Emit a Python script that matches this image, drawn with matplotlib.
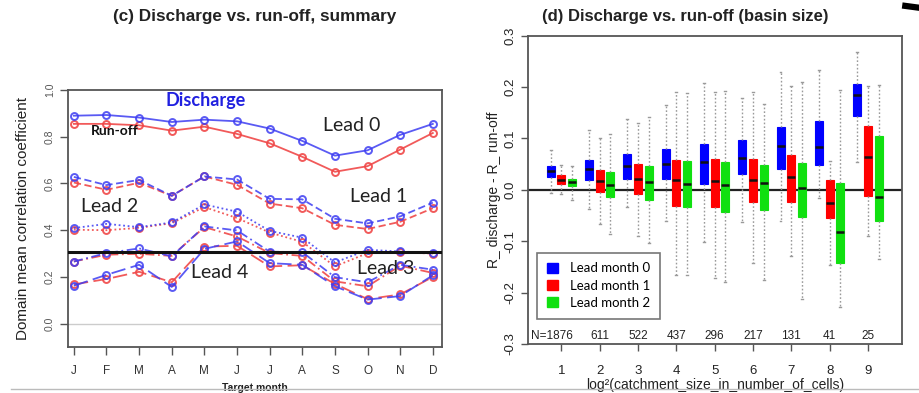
"""Discharge vs. run-off skill: monthly summary and basin-size boxplots."""
import matplotlib

matplotlib.use("Agg")
import matplotlib.pyplot as plt
from matplotlib.lines import Line2D
from matplotlib.patches import Patch

# ---- panel (c): domain mean correlation by target month ----
months = ["J", "F", "M", "A", "M", "J", "J", "A", "S", "O", "N", "D"]

discharge_lead0 = [0.890, 0.893, 0.882, 0.863, 0.873, 0.866, 0.835, 0.782, 0.719, 0.742, 0.808, 0.855]
runoff_lead0 = [0.855, 0.855, 0.849, 0.826, 0.843, 0.812, 0.772, 0.714, 0.650, 0.674, 0.745, 0.816]
discharge_lead1 = [0.628, 0.593, 0.615, 0.547, 0.630, 0.617, 0.534, 0.532, 0.449, 0.429, 0.459, 0.518]
runoff_lead1 = [0.604, 0.573, 0.603, 0.547, 0.630, 0.594, 0.514, 0.494, 0.423, 0.405, 0.436, 0.494]
discharge_lead2 = [0.409, 0.427, 0.413, 0.433, 0.510, 0.479, 0.397, 0.368, 0.262, 0.316, 0.309, 0.302]
runoff_lead2 = [0.402, 0.400, 0.410, 0.430, 0.499, 0.452, 0.390, 0.350, 0.245, 0.302, 0.305, 0.300]
discharge_lead3 = [0.266, 0.302, 0.322, 0.288, 0.416, 0.399, 0.308, 0.306, 0.199, 0.177, 0.252, 0.231]
runoff_lead3 = [0.266, 0.295, 0.299, 0.290, 0.413, 0.373, 0.302, 0.290, 0.181, 0.160, 0.248, 0.217]
discharge_lead4 = [0.162, 0.209, 0.252, 0.157, 0.320, 0.352, 0.259, 0.252, 0.160, 0.103, 0.118, 0.207]
runoff_lead4 = [0.168, 0.191, 0.222, 0.177, 0.330, 0.333, 0.245, 0.250, 0.170, 0.105, 0.125, 0.200]
threshold = 0.306

# ---- panel (d): R_discharge - R_run-off by log2 catchment size ----
size_classes = [1, 2, 3, 4, 5, 6, 7, 8, 9]
n_basins = ["N=1876", "611", "522", "437", "296", "217", "131", "41", "25"]

lead0_lo = [-0.006, -0.037, -0.033, -0.061, -0.102, -0.062, -0.061, -0.016, 0.055]
lead0_q1 = [0.025, 0.019, 0.022, 0.022, 0.012, 0.031, 0.041, 0.049, 0.143]
lead0_med = [0.036, 0.040, 0.047, 0.051, 0.054, 0.062, 0.085, 0.084, 0.184]
lead0_q3 = [0.047, 0.059, 0.069, 0.080, 0.090, 0.097, 0.123, 0.134, 0.207]
lead0_hi = [0.078, 0.116, 0.137, 0.166, 0.208, 0.179, 0.229, 0.233, 0.268]

lead1_lo = [-0.009, -0.066, -0.090, -0.165, -0.172, -0.142, -0.128, -0.146, -0.090]
lead1_q1 = [0.012, -0.004, -0.008, -0.031, -0.033, -0.024, -0.024, -0.055, -0.012]
lead1_med = [0.020, 0.017, 0.021, 0.020, 0.017, 0.020, 0.025, -0.025, 0.064]
lead1_q3 = [0.028, 0.038, 0.051, 0.059, 0.060, 0.060, 0.067, 0.020, 0.125]
lead1_hi = [0.049, 0.100, 0.130, 0.191, 0.190, 0.191, 0.203, 0.057, 0.202]

lead2_lo = [-0.019, -0.087, -0.103, -0.165, -0.180, -0.176, -0.212, -0.228, -0.134]
lead2_q1 = [0.007, -0.014, -0.019, -0.033, -0.043, -0.040, -0.052, -0.142, -0.061]
lead2_med = [0.015, 0.010, 0.015, 0.012, 0.009, 0.014, 0.003, -0.083, -0.014]
lead2_q3 = [0.022, 0.035, 0.046, 0.056, 0.055, 0.049, 0.053, 0.014, 0.104]
lead2_hi = [0.046, 0.108, 0.142, 0.189, 0.193, 0.168, 0.210, 0.195, 0.204]

BLUE = "#3d3df2"
RED = "#f04848"
BOX_COLORS = ["#0000ff", "#ff0000", "#10e010"]
ANNOT_FONT = ["Lato", "DejaVu Sans"]

plt.rcParams["font.family"] = ["Liberation Sans", "DejaVu Sans"]

fig = plt.figure(figsize=(9.2, 3.93), dpi=100)

# ---------------- panel (c) ----------------
ax = fig.add_axes([0.0739, 0.117, 0.4065, 0.654])
x = list(range(1, 13))
styles = [
    (discharge_lead0, runoff_lead0, "-"),
    (discharge_lead1, runoff_lead1, (0, (4, 2))),
    (discharge_lead2, runoff_lead2, (0, (1, 1.5))),
    (discharge_lead3, runoff_lead3, (0, (5, 2, 1, 2))),
    (discharge_lead4, runoff_lead4, (0, (8, 3))),
]
ax.axhline(0.0, color="#cccccc", lw=1.0, zorder=1)
for dis, run, ls in styles:
    ax.plot(x, run, color=RED, ls=ls, lw=1.3, marker="o", ms=5, mfc="none",
            mec=RED, mew=1.4, alpha=0.9, zorder=2)
    ax.plot(x, dis, color=BLUE, ls=ls, lw=1.3, marker="o", ms=5, mfc="none",
            mec=BLUE, mew=1.4, alpha=0.85, zorder=3)
ax.axhline(threshold, color="#111111", lw=2.2, zorder=4)

ax.set_xlim(0.82, 12.28)
ax.set_ylim(-0.1, 1.0)
ax.set_xticks(x)
ax.set_xticklabels(months, fontsize=8.5, color="#333333")
ax.set_yticks([0.0, 0.2, 0.4, 0.6, 0.8, 1.0])
ax.set_yticklabels(["0.0", "0.2", "0.4", "0.6", "0.8", "1.0"], rotation=90,
                   va="center", fontsize=7.5, color="#555555")
ax.tick_params(axis="both", direction="out", length=6, color="#555555", width=1.0)
ax.tick_params(axis="x", pad=7)
for sp in ax.spines.values():
    sp.set_color("#555555")
    sp.set_linewidth(1.3)
ax.set_xlabel("Target month", fontsize=7.5, fontweight="bold", labelpad=4, color="#222222")
ax.set_ylabel("Domain mean correlation coefficient", fontsize=11, labelpad=11, color="#222222")

ax.text(5.05, 0.957, "Discharge", color="#2020e0", fontsize=13, fontweight="bold",
        ha="center", va="center", family=ANNOT_FONT)
ax.text(2.26, 0.825, "Run-off", color="#111111", fontsize=10, fontweight="bold",
        ha="center", va="center", family=ANNOT_FONT)
for lx, ly, label in [(9.5, 0.846, "Lead 0"), (10.33, 0.543, "Lead 1"),
                      (2.1, 0.5, "Lead 2"), (10.57, 0.235, "Lead 3"),
                      (5.48, 0.218, "Lead 4")]:
    ax.text(lx, ly, label, color="#222222", fontsize=14, ha="center", va="center",
            family=ANNOT_FONT, zorder=5)

fig.text(0.277, 0.957, "(c) Discharge vs. run-off, summary", ha="center", va="center",
         fontsize=12.3, fontweight="bold", color="#222222")

# ---------------- panel (d) ----------------
bx = fig.add_axes([0.574, 0.125, 0.406, 0.784])
groups = [
    (lead0_lo, lead0_q1, lead0_med, lead0_q3, lead0_hi),
    (lead1_lo, lead1_q1, lead1_med, lead1_q3, lead1_hi),
    (lead2_lo, lead2_q1, lead2_med, lead2_q3, lead2_hi),
]
offsets = [-0.28, 0.0, 0.28]
bx.axhline(0.0, color="#222222", lw=1.6, zorder=1)
for (lo, q1, med, q3, hi), off, col in zip(groups, offsets, BOX_COLORS):
    stats = [
        {"whislo": lo[i], "q1": q1[i], "med": med[i], "q3": q3[i], "whishi": hi[i], "fliers": []}
        for i in range(len(size_classes))
    ]
    bx.bxp(stats, positions=[s + off for s in size_classes], widths=0.21,
           patch_artist=True, showfliers=False, manage_ticks=False,
           boxprops=dict(facecolor=col, edgecolor=col, linewidth=0.8),
           medianprops=dict(color="#111111", linewidth=1.8),
           whiskerprops=dict(color="#9a9a9a", linestyle=(0, (1.2, 1.5)), linewidth=1.0),
           capprops=dict(color="#9a9a9a", linewidth=1.0), capwidths=0.05)

for s, label in zip(size_classes, n_basins):
    xpos = s - 0.26 if label.startswith("N=") else s
    bx.text(xpos, -0.284, label, ha="center", va="center", fontsize=8.5, color="#222222")

bx.set_xlim(0.13, 9.88)
bx.set_ylim(-0.3, 0.3)
bx.set_xticks(size_classes)
bx.set_xticklabels([str(s) for s in size_classes], fontsize=9.5, color="#222222")
bx.set_yticks([-0.3, -0.2, -0.1, 0.0, 0.1, 0.2, 0.3])
bx.set_yticklabels(["-0.3", "-0.2", "-0.1", "0.0", "0.1", "0.2", "0.3"], rotation=90,
                   va="center", fontsize=9.5, color="#222222")
bx.tick_params(axis="both", direction="out", length=5, color="#555555", width=1.0)
bx.tick_params(axis="x", pad=10)
for sp in bx.spines.values():
    sp.set_color("#555555")
    sp.set_linewidth(1.3)
bx.set_xlabel("log\u00b2(catchment_size_in_number_of_cells)", fontsize=10, labelpad=1,
              color="#222222")
bx.set_ylabel("R_ discharge - R_ run-off", fontsize=10, labelpad=2, color="#222222")

handles = [Patch(facecolor=c, edgecolor=c) for c in BOX_COLORS]
leg = bx.legend(handles, ["Lead month 0", "Lead month 1", "Lead month 2"],
                loc="lower left", bbox_to_anchor=(0.025, 0.081), borderaxespad=0,
                prop={"family": ANNOT_FONT, "size": 9.5},
                fancybox=False, framealpha=1.0, edgecolor="#777777",
                handlelength=0.8, handleheight=0.8, handletextpad=0.9,
                borderpad=0.75, labelspacing=0.4)
leg.get_frame().set_linewidth(1.2)

fig.text(0.745, 0.957, "(d) Discharge vs. run-off (basin size)", ha="center", va="center",
         fontsize=12, fontweight="bold", color="#222222")

# page-edge remnants seen in the screenshot
fig.add_artist(Line2D([0.012, 1.0], [0.011, 0.011], color="#bbbbbb", lw=1.0))
fig.add_artist(Line2D([0.984, 1.0], [0.985, 0.98], color="black", lw=4.5))

fig.savefig("out.png", dpi=100)
